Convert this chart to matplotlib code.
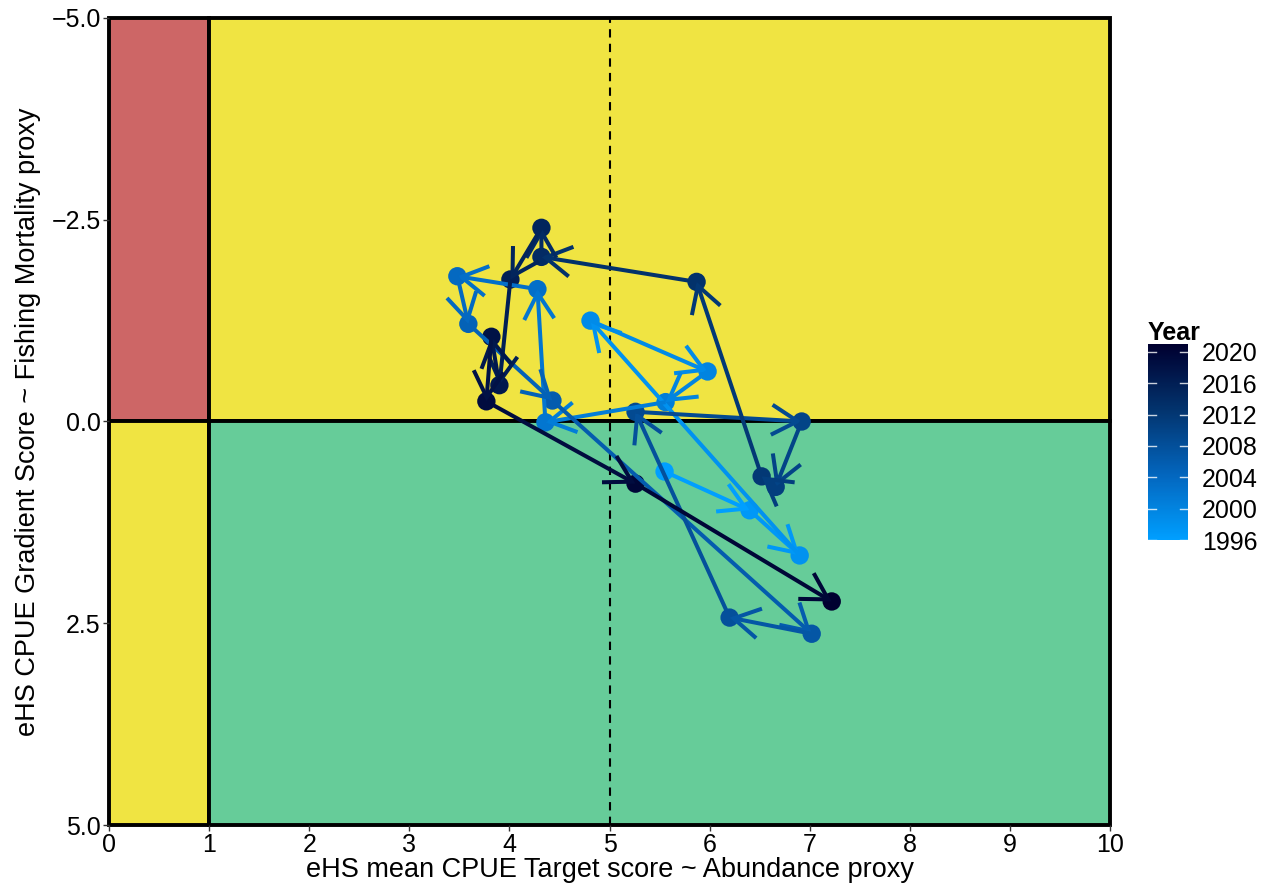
import matplotlib
matplotlib.use("Agg")
import matplotlib.pyplot as plt
from matplotlib.patches import Rectangle, ArrowStyle
from matplotlib.colors import LinearSegmentedColormap, Normalize
import numpy as np

plt.rcParams['font.family'] = ['Liberation Sans', 'DejaVu Sans']

# ---- data ----
years = list(range(1996, 2022))
abundance = [5.55, 6.40, 6.90, 4.81, 5.98, 5.56, 4.36, 4.28, 3.48, 3.59,
             4.43, 7.02, 6.20, 5.26, 6.92, 6.66, 6.52, 5.87, 4.32, 4.32,
             4.01, 3.90, 3.82, 3.77, 5.26, 7.22]
gradient = [0.62, 1.10, 1.66, -1.25, -0.62, -0.24, 0.01, -1.64, -1.80, -1.21,
            -0.26, 2.63, 2.43, -0.12, 0.00, 0.81, 0.68, -1.73, -2.04, -2.40,
            -1.76, -0.45, -1.05, -0.25, 0.77, 2.23]
xticks = [0, 1, 2, 3, 4, 5, 6, 7, 8, 9, 10]
yticks = [-5.0, -2.5, 0.0, 2.5, 5.0]
ytick_labels = ["\u22125.0", "\u22122.5", "0.0", "2.5", "5.0"]
cbar_ticks = [1996, 2000, 2004, 2008, 2012, 2016, 2020]

# zones: (x0, x1, y0, y1, colour)
zones = [
    (0, 1, -5, 0, "#CD6666"),
    (1, 10, -5, 0, "#F0E442"),
    (0, 1, 0, 5, "#F0E442"),
    (1, 10, 0, 5, "#66CC99"),
]

W, H = 1272, 888
fig = plt.figure(figsize=(W / 100, H / 100), dpi=100)
ax = fig.add_axes([109 / W, 63 / H, 1001 / W, 807 / H])

for x0, x1, y0, y1, c in zones:
    ax.add_patch(Rectangle((x0, y0), x1 - x0, y1 - y0, facecolor=c,
                           edgecolor="black", linewidth=2.8, zorder=1,
                           clip_on=False))

ax.axvline(5, color="black", linestyle=(0, (4, 3)), linewidth=1.5, zorder=2)

cmap = LinearSegmentedColormap.from_list(
    "yr", ["#009FFF", "#0466BE", "#03346E", "#000030"])
norm = Normalize(vmin=1996, vmax=2021)

# points
ax.scatter(abundance, gradient, c=years, cmap=cmap, norm=norm, s=175,
           zorder=3, linewidths=0)

# arrows
L = 21.6  # barb length in points
ms = 20
style = ArrowStyle("->", head_length=0.866 * L / ms, head_width=0.5 * L / ms)
for i in range(len(years) - 1):
    col = cmap(norm(years[i]))
    ax.annotate("", xy=(abundance[i + 1], gradient[i + 1]),
                xytext=(abundance[i], gradient[i]),
                arrowprops=dict(arrowstyle=style, color=col, lw=2.9,
                                shrinkA=0, shrinkB=0, mutation_scale=ms,
                                capstyle="butt", joinstyle="miter"),
                zorder=4)

ax.set_xlim(0, 10)
ax.set_ylim(5, -5)
ax.set_xticks(xticks)
ax.set_xticklabels([str(t) for t in xticks])
ax.set_yticks(yticks)
ax.set_yticklabels(ytick_labels)
ax.tick_params(axis="both", labelsize=18, length=4, width=1.0, pad=2,
               color="#333333", labelcolor="black")
for s in ax.spines.values():
    s.set_visible(False)

fig.text(609.5 / W, 1 - 870 / H, "eHS mean CPUE Target score ~ Abundance proxy",
         ha="center", va="center", fontsize=19.5)
fig.text(28 / W, 1 - 422 / H, "eHS CPUE Gradient Score ~ Fishing Mortality proxy",
         ha="center", va="center", fontsize=19.5, rotation=90)

# colorbar
cax = fig.add_axes([1148 / W, 1 - 540 / H, 40 / W, 196 / H])
grad = np.linspace(1996, 2021, 300).reshape(-1, 1)
cax.imshow(grad, aspect="auto", cmap=cmap, norm=norm, origin="lower",
           extent=[0, 1, 1996, 2021])
cax.set_xlim(0, 1)
cax.set_ylim(1996, 2021)
for t in cbar_ticks:
    cax.plot([0, 0.2], [t, t], color="white", lw=1.0, alpha=0.8)
    cax.plot([0.8, 1], [t, t], color="white", lw=1.0, alpha=0.8)
cax.set_xticks([])
cax.set_yticks(cbar_ticks)
cax.yaxis.tick_right()
cax.tick_params(axis="y", length=0, labelsize=18, pad=10)
for s in cax.spines.values():
    s.set_visible(False)
fig.text(1148 / W, 1 - 333 / H, "Year", ha="left", va="center",
         fontsize=18, fontweight="bold")

fig.savefig("out.png", dpi=100)
